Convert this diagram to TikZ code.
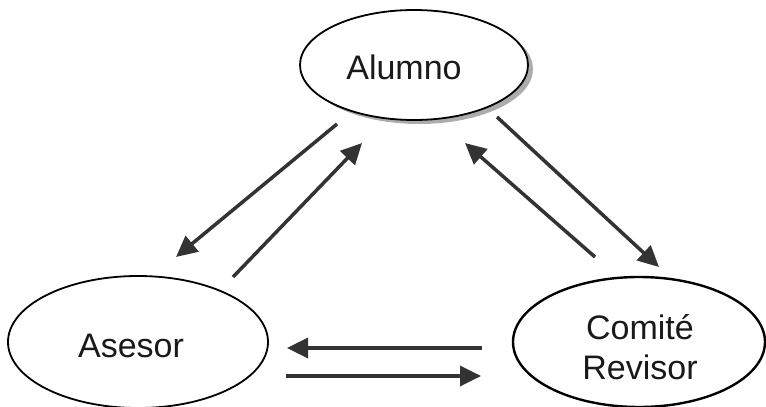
\documentclass[tikz,border=0pt]{standalone}
\usepackage{fontspec}
\setmainfont{Liberation Sans}
\usetikzlibrary{shapes.geometric,shadows,arrows.meta}
\definecolor{arrowgray}{HTML}{333333}
\tikzset{
  actor/.style={draw=black, fill=white, ellipse, inner sep=0pt, line width=1.8pt},
  label/.style={inner sep=0pt, font=\fontsize{34}{40}\selectfont, align=center, text=black!90},
  flow/.style={draw=arrowgray, line width=3.5pt, -{Triangle[length=21pt,width=20pt]}, shorten >=0pt}
}
\begin{document}
\begin{tikzpicture}[x=1pt,y=-1pt]
\useasboundingbox (0,0) rectangle (766,407);
% nodes
\node[actor, minimum width=228pt, minimum height=110pt,
      drop shadow={shadow xshift=5pt, shadow yshift=-4pt, fill=gray!65, opacity=1}] (alumno) at (414,65) {};
\node[actor, minimum width=260pt, minimum height=132pt] (asesor) at (138,342) {};
\node[actor, minimum width=252pt, minimum height=130pt, line width=2.4pt] (comite) at (639,342) {};
\node[label] (talumno) at (404,67) {Alumno};
\node[label] (tasesor) at (131,346) {Asesor};
\node[label] (tcomite) at (640,347) {Comité\\Revisor};
% arrow end points
\coordinate (a1s) at (337,124); \coordinate (a1e) at (176,257);
\coordinate (a2s) at (233,277); \coordinate (a2e) at (362,143);
\coordinate (a3s) at (497,117); \coordinate (a3e) at (659,267);
\coordinate (a4s) at (595,257); \coordinate (a4e) at (465,143);
\coordinate (a5s) at (482,348); \coordinate (a5e) at (287,348);
\coordinate (a6s) at (286,376); \coordinate (a6e) at (481,376);
% connectors
\draw[flow] (a1s) -- (a1e);
\draw[flow] (a2s) -- (a2e);
\draw[flow] (a3s) -- (a3e);
\draw[flow] (a4s) -- (a4e);
\draw[flow] (a5s) -- (a5e);
\draw[flow] (a6s) -- (a6e);
\end{tikzpicture}
\end{document}
